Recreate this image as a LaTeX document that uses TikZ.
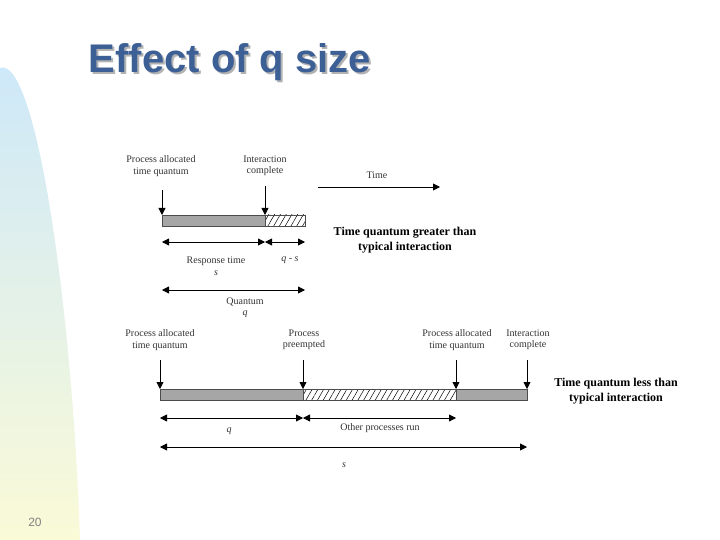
\documentclass[tikz,border=0pt]{standalone}
\usepackage{fontspec}
\setmainfont{Liberation Serif}
\setsansfont{Liberation Sans}
\usetikzlibrary{arrows.meta,patterns.meta}
\definecolor{topc}{RGB}{205,232,250}
\definecolor{botc}{RGB}{250,250,215}
\begin{document}
\begin{tikzpicture}[x=1pt,y=-1pt,
  lab/.style={font=\fontsize{10}{11.5}\selectfont,align=center,text=black!80,inner sep=0},
  big/.style={font=\fontsize{12}{15}\selectfont\bfseries,align=center,inner sep=0},
  down/.style={-{Triangle[length=7pt,width=7pt]},thick},
  dim/.style={{Triangle[length=7pt,width=7pt]}-{Triangle[length=7pt,width=7pt]},thick},
  graybar/.style={draw=black!70,fill=black!35},
  hatchbar/.style={draw=black!70,pattern={Lines[angle=60,distance=5pt,line width=0.5pt]}}]
\useasboundingbox (0,0) rectangle (720,540);
\fill[white] (0,0) rectangle (720,540);
\shade[top color=topc,bottom color=botc] (0,540)--(0,68) .. controls (35,55) and (72,300) .. (80,540) -- cycle;
\node[font=\sffamily\bfseries\fontsize{40}{44}\selectfont,text=black!30,inner sep=0] (shadow) at (232,64) {Effect of q size};
\node[font=\sffamily\bfseries\fontsize{40}{44}\selectfont,text={rgb,255:red,60;green,95;blue,150},inner sep=0] (title) at (230,62) {Effect of q size};
\node[font=\sffamily\fontsize{12}{14}\selectfont,text=black!50] (pg) at (35,522) {20};
% top diagram
\draw[graybar] (162,215) rectangle (265,226);
\draw[hatchbar] (265,215) rectangle (305,226);
\node[lab] (a1) at (161,166) {Process allocated\\time quantum};
\node[lab] (a2) at (265,166) {Interaction\\complete};
\coordinate (t1) at (162,215); \coordinate (t2) at (265,215);
\draw[down] (162,190) -- (t1);
\draw[down] (265,186) -- (t2);
\node[lab] (time) at (377,175) {Time};
\coordinate (ts) at (318,187); \coordinate (te) at (440,187);
\draw[-{Triangle[length=7pt,width=7pt]},thick] (ts) -- (te);
\node[big] (b1) at (405,240) {Time quantum greater than\\typical interaction};
\coordinate (d1) at (162,242); \coordinate (d2) at (265,242); \coordinate (d3) at (305,242);
\draw[dim] (d1) -- (d2); \draw[dim] (d2) -- (d3);
\node[lab] (rt) at (216,266) {Response time\\\textit{s}};
\node[lab] (qs) at (290,260) {\textit{q} - \textit{s}};
\coordinate (e1) at (162,290); \coordinate (e2) at (305,290);
\draw[dim] (e1) -- (e2);
\node[lab] (qu) at (245,308) {Quantum\\\textit{q}};
% bottom diagram
\draw[graybar] (160,389) rectangle (303,400);
\draw[hatchbar] (303,389) rectangle (456,400);
\draw[graybar] (456,389) rectangle (527,400);
\node[lab] (c1) at (160,340) {Process allocated\\time quantum};
\node[lab] (c2) at (304,340) {Process\\preempted};
\node[lab] (c3) at (457,340) {Process allocated\\time quantum};
\node[lab] (c4) at (528,340) {Interaction\\complete};
\foreach \x/\n in {160/u1,303/u2,456/u3,527/u4}{\coordinate (\n) at (\x,389); \draw[down] (\x,360) -- (\n);}
\node[big] (b2) at (616,391) {Time quantum less than\\typical interaction};
\coordinate (f1) at (160,418); \coordinate (f2) at (303,418); \coordinate (f3) at (456,418);
\draw[dim] (f1) -- (f2); \draw[dim] (f2) -- (f3);
\node[lab] (q2) at (229,431) {\textit{q}};
\node[lab] (op) at (380,428) {Other processes run};
\coordinate (g1) at (160,447); \coordinate (g2) at (527,447);
\draw[dim] (g1) -- (g2);
\node[lab] (s2) at (344,465) {\textit{s}};
\end{tikzpicture}
\end{document}
